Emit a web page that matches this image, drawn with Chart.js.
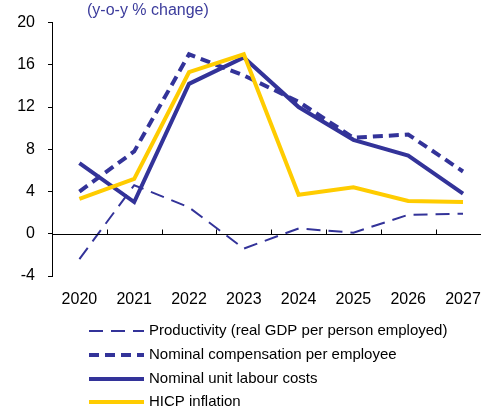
<!DOCTYPE html>
<html>
<head>
<meta charset="utf-8">
<script src="https://cdn.jsdelivr.net/npm/chart.js@4.4.1/dist/chart.umd.min.js"></script>
<style>
  html, body { margin: 0; padding: 0; overflow: hidden; background: #fff; }
</style>
</head>
<body>
<canvas id="myChart" width="495" height="411"></canvas>
<script>
// chart data
var years = ["2020", "2021", "2022", "2023", "2024", "2025", "2026", "2027"];
var productivity = [-2.4, 4.6, 2.5, -1.4, 0.5, 0.1, 1.8, 1.9];
var compensation = [4.0, 7.8, 17.0, 15.0, 12.5, 9.1, 9.4, 5.9];
var unitLabourCosts = [6.7, 3.0, 14.2, 16.7, 12.0, 8.9, 7.4, 3.8];
var hicpInflation = [3.3, 5.2, 15.3, 17.0, 3.7, 4.4, 3.1, 3.0];
var yTicks = [-4, 0, 4, 8, 12, 16, 20];

var BLUE = "#333399";
var YELLOW = "#ffcc00";
var FONT = "'Liberation Sans', Arial, sans-serif";

// zero line, category ticks, title and legend
var decorations = {
  id: "decorations",
  afterDatasetsDraw: function (chart) {
    var ctx = chart.ctx;
    var area = chart.chartArea;
    var x = chart.scales.x;
    var y0 = Math.round(chart.scales.y.getPixelForValue(0)) + 0.5;
    ctx.save();
    ctx.strokeStyle = "#000";
    ctx.lineWidth = 1;
    ctx.beginPath();
    ctx.moveTo(area.left, y0);
    ctx.lineTo(area.right, y0);
    for (var i = 1; i < years.length; i++) {
      var px = Math.round((x.getPixelForValue(i - 1) + x.getPixelForValue(i)) / 2) + 0.5;
      ctx.moveTo(px, y0);
      ctx.lineTo(px, y0 - 5);
    }
    ctx.stroke();
    ctx.restore();
  },
  afterDraw: function (chart) {
    var ctx = chart.ctx;
    ctx.save();
    ctx.font = "16px " + FONT;
    ctx.fillStyle = "#3c3c9c";
    ctx.textBaseline = "middle";
    ctx.fillText("(y-o-y % change)", 87, 11);

    // legend
    ctx.font = "15px " + FONT;
    var rowY = [331, 355, 379, 402];
    chart.data.datasets.forEach(function (ds, i) {
      var ly = rowY[i];
      ctx.strokeStyle = ds.borderColor;
      ctx.lineWidth = ds.borderWidth;
      ctx.setLineDash(ds.borderDash || []);
      ctx.beginPath();
      ctx.moveTo(89, ly);
      ctx.lineTo(144, ly);
      ctx.stroke();
      ctx.setLineDash([]);
      ctx.fillStyle = "#000";
      ctx.fillText(ds.label, 149, ly);
    });
    ctx.restore();
  },
};

var ctx = document.getElementById("myChart").getContext("2d");
var myChart = new Chart(ctx, {
  type: "line",
  data: {
    labels: years,
    datasets: [
      {
        label: "Productivity (real GDP per person employed)",
        data: productivity,
        borderColor: BLUE,
        borderWidth: 2,
        borderDash: [14, 8],
        order: 3,
      },
      {
        label: "Nominal compensation per employee",
        data: compensation,
        borderColor: BLUE,
        borderWidth: 4,
        borderDash: [10, 6],
        order: 1,
      },
      {
        label: "Nominal unit labour costs",
        data: unitLabourCosts,
        borderColor: BLUE,
        borderWidth: 4,
        order: 2,
      },
      {
        label: "HICP inflation",
        data: hicpInflation,
        borderColor: YELLOW,
        borderWidth: 4,
        order: 0,
      },
    ],
  },
  options: {
    responsive: false,
    animation: false,
    layout: { padding: { top: 22, right: 3, left: 0, bottom: 0 } },
    elements: {
      point: { radius: 0 },
      line: { tension: 0, fill: false, borderCapStyle: "butt" },
    },
    plugins: {
      legend: { display: false },
      tooltip: { enabled: false },
    },
    scales: {
      x: {
        offset: true,
        grid: { display: false, drawTicks: false },
        border: { display: false },
        ticks: {
          color: "#000",
          font: { family: FONT, size: 16 },
          padding: 14,
          maxRotation: 0,
          autoSkip: false,
        },
        afterFit: function (scale) {
          scale.height = 135;
        },
      },
      y: {
        min: -4,
        max: 20,
        afterBuildTicks: function (scale) {
          scale.ticks = yTicks.map(function (v) {
            return { value: v };
          });
        },
        grid: { drawOnChartArea: false, tickLength: 4, color: "#000" },
        border: { display: true, color: "#000" },
        ticks: {
          color: "#000",
          font: { family: FONT, size: 16 },
          padding: 13,
        },
        afterFit: function (scale) {
          scale.width = 52;
        },
      },
    },
  },
  plugins: [decorations],
});
</script>
</body>
</html>
